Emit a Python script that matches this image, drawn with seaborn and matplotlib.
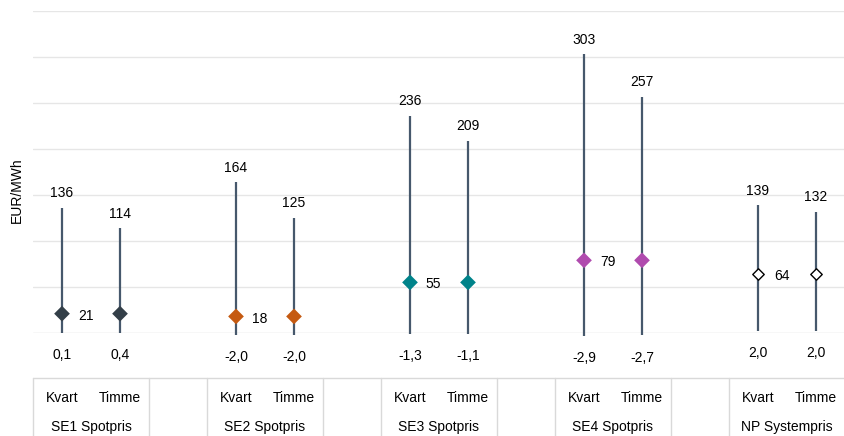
import matplotlib
matplotlib.use("Agg")
import matplotlib.pyplot as plt
from matplotlib.transforms import blended_transform_factory
from matplotlib.lines import Line2D
import seaborn as sns
import pandas as pd

# Price statistics per bidding zone (EUR/MWh), quarter-hour vs hourly resolution
zones = ["SE1 Spotpris", "SE2 Spotpris", "SE3 Spotpris", "SE4 Spotpris", "NP Systempris"]
resolutions = ["Kvart", "Timme"]
max_kvart = [136, 164, 236, 303, 139]
max_timme = [114, 125, 209, 257, 132]
min_kvart = [0.1, -2.0, -1.3, -2.9, 2.0]
min_timme = [0.4, -2.0, -1.1, -2.7, 2.0]
mean_kvart = [21, 18, 55, 79, 64]
mean_timme = [21, 18, 55, 79, 64]

zone_colors = {
    "SE1 Spotpris": "#333F48",
    "SE2 Spotpris": "#C55A11",
    "SE3 Spotpris": "#00838A",
    "SE4 Spotpris": "#B04BAE",
    "NP Systempris": "#FFFFFF",
}
range_color = "#46586C"
grid_color = "#E6E6E6"
table_color = "#D9D9D9"

rows = []
for zi, zone in enumerate(zones):
    for ri, res in enumerate(resolutions):
        rows.append({
            "zone": zone,
            "res": res,
            "slot": 3 * zi + ri,  # one empty slot between zone groups
            "max": (max_kvart if ri == 0 else max_timme)[zi],
            "min": (min_kvart if ri == 0 else min_timme)[zi],
            "mean": (mean_kvart if ri == 0 else mean_timme)[zi],
        })
df = pd.DataFrame(rows)

sns.set_theme(style="white")
plt.rcParams["font.family"] = ["Liberation Sans", "DejaVu Sans"]
plt.rcParams["text.color"] = "black"

W, H = 845, 436
fig = plt.figure(figsize=(W / 100, H / 100), dpi=100)
ax = fig.add_axes([33 / W, 1 - 333 / H, (W - 33) / W, (333 - 11) / H])

n_slots = 3 * len(zones) - 1
x_lo, x_hi = -0.5, n_slots - 0.5
ax.set_xlim(x_lo, x_hi)
ax.set_ylim(0, 350)

for yv in range(0, 351, 50):
    ax.axhline(yv, color=table_color if yv == 0 else grid_color, lw=1.0, zorder=0)

ax.vlines(df["slot"], df["min"], df["max"], color=range_color, lw=1.6,
          zorder=2, clip_on=False)

filled = df[df["zone"] != "NP Systempris"]
hollow = df[df["zone"] == "NP Systempris"]
sns.scatterplot(data=filled, x="slot", y="mean", hue="zone", palette=zone_colors,
                marker="D", s=64, edgecolor="none", legend=False, zorder=3, ax=ax)
sns.scatterplot(data=hollow, x="slot", y="mean", color="white", marker="D",
                s=34, edgecolor="black", linewidth=1.0, legend=False, zorder=3, ax=ax)

fs = 10
for _, r in df.iterrows():
    ax.annotate(f"{r['max']:.0f}", (r["slot"], r["max"]), xytext=(0, 10.5),
                textcoords="offset points", ha="center", va="center", fontsize=fs)
    ax.annotate(f"{r['min']:.1f}".replace(".", ","), (r["slot"], r["min"]),
                xytext=(0, -16), textcoords="offset points", ha="center",
                va="center", fontsize=fs, annotation_clip=False)
    if r["res"] == "Kvart":
        ax.annotate(f"{r['mean']:.0f}", (r["slot"], r["mean"]), xytext=(17, -1.5),
                    textcoords="offset points", ha="center", va="center", fontsize=fs)

ax.set_xticks([])
ax.set_yticks([])
ax.set_xlabel("")
ax.set_ylabel("")
sns.despine(ax=ax, left=True, bottom=True)

# Category table under the plot
tr = blended_transform_factory(ax.transData, fig.transFigure)
def fy(px):
    return 1 - px / H

fig.add_artist(Line2D([x_lo, x_hi], [fy(378), fy(378)], transform=tr,
                      color=table_color, lw=1.0))
edges = [x_lo]
for zi in range(len(zones) - 1):
    edges += [3 * zi + 1.5, 3 * zi + 2.5]
for e in edges:
    fig.add_artist(Line2D([e, e], [fy(378), 0], transform=tr, color=table_color, lw=1.0))

for _, r in df.iterrows():
    fig.text(r["slot"], fy(398), r["res"], transform=tr, ha="center", va="center",
             fontsize=fs)
for zi, zone in enumerate(zones):
    fig.text(3 * zi + 0.5, fy(427), zone, transform=tr, ha="center", va="center",
             fontsize=fs)

fig.text(17 / W, fy(190), "EUR/MWh", rotation=90, ha="center", va="center",
         fontsize=fs)

fig.savefig("out.png", dpi=100)
